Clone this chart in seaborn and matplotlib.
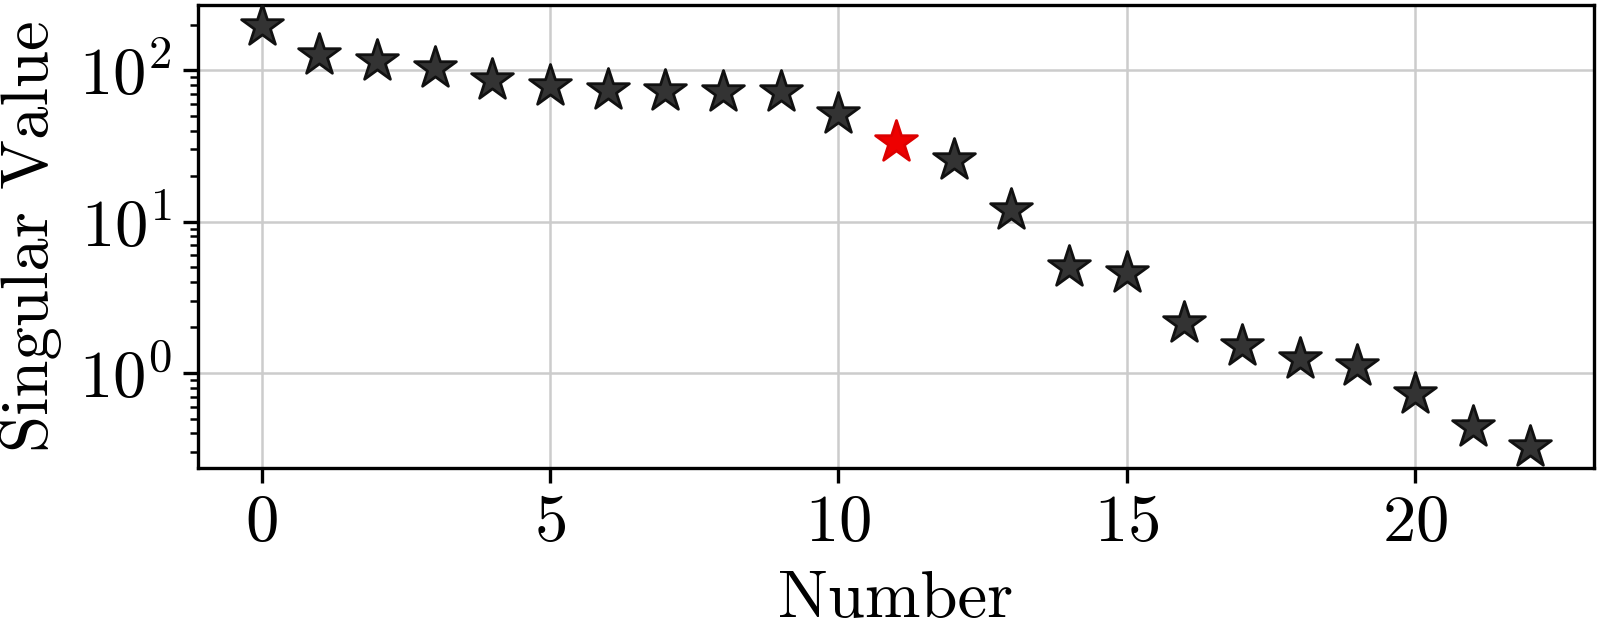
import numpy as np
import pandas as pd
import matplotlib
matplotlib.use("Agg")
import matplotlib.pyplot as plt
import seaborn as sns

number = list(range(23))
singular_values = [196, 126, 116, 104, 86.7, 79, 74, 73, 72, 71.5, 51.6, 33.7, 25.7,
                   12.0, 5.05, 4.6, 2.15, 1.52, 1.24, 1.11, 0.729, 0.437, 0.327]
highlight_index = 11

sns.set_theme(style="whitegrid")
plt.rcParams["font.family"] = ["cmr10", "DejaVu Sans"]
plt.rcParams["mathtext.fontset"] = "cm"
plt.rcParams["axes.formatter.use_mathtext"] = True
plt.rcParams["axes.unicode_minus"] = False
plt.rcParams["text.color"] = "black"
plt.rcParams["axes.labelcolor"] = "black"
plt.rcParams["xtick.color"] = "black"
plt.rcParams["ytick.color"] = "black"

df = pd.DataFrame({"Number": number, "Singular Value": singular_values})
df["hl"] = df["Number"] == highlight_index

fig = plt.figure(figsize=(8, 3.185), dpi=200)
ax = fig.add_axes([0.124, 0.266, 0.872, 0.726])

sns.scatterplot(data=df[~df["hl"]], x="Number", y="Singular Value", ax=ax,
                marker="*", s=250, color="#333333", edgecolor="#111111",
                linewidth=1.0, zorder=3)
sns.scatterplot(data=df[df["hl"]], x="Number", y="Singular Value", ax=ax,
                marker="*", s=250, color="#ee0000", edgecolor="#dd0000",
                linewidth=1.0, zorder=3)
ax.set_yscale("log")
ax.margins(x=0.05, y=0.05)

for sp in ax.spines.values():
    sp.set_color("black")
    sp.set_linewidth(1.2)
ax.grid(True, which="major", color="#cccccc", linewidth=0.9)
ax.grid(False, which="minor")
ax.tick_params(axis="both", which="major", direction="out", length=5.5, width=1.2,
               color="black", labelcolor="black", labelsize=24, left=True, bottom=True, pad=4)
ax.tick_params(axis="y", which="minor", direction="out", length=3, width=0.9,
               color="black", left=True)
ax.set_xticks([0, 5, 10, 15, 20])
ax.set_xlabel("Number", fontsize=24, labelpad=6, color="black")
ax.set_ylabel("Singular Value", fontsize=24, labelpad=6, color="black")

fig.savefig("out.png", dpi=200)
